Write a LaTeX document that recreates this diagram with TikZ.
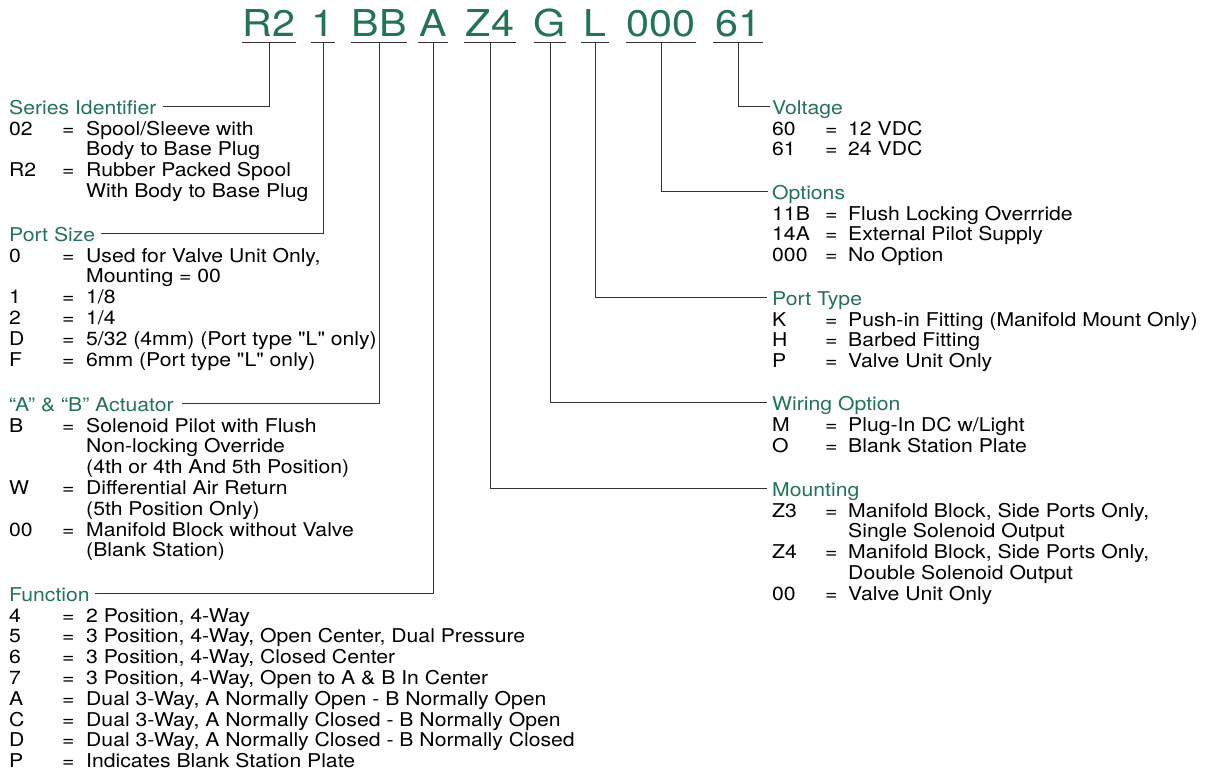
\documentclass[tikz,border=0pt]{standalone}
\usepackage{fontspec}
\setmainfont{TeX Gyre Heros}[FakeStretch=1.115, Ligatures=TeXOff]
\definecolor{hdr}{RGB}{35,115,85}
\begin{document}
\begin{tikzpicture}[x=1pt,y=-1pt,
  codebox/.style={anchor=base, inner sep=0pt, text=hdr, font=\fontsize{37}{40}\selectfont},
  hdrbox/.style={anchor=base west, inner sep=0pt, text=hdr, font=\fontsize{19}{20.8}\selectfont},
  listbox/.style={anchor=base west, inner sep=0pt, font=\fontsize{19}{20.8}\selectfont},
  conn/.style={draw=black!80, line width=0.9pt},
]
\fill[white] (0,0) rectangle (1205,774);
\useasboundingbox (0,0) rectangle (1205,774);

% code
\node[codebox, minimum width=52pt] (cR2) at (269,36) {R2};
\node[codebox, minimum width=24pt] (c1) at (323,36) {1};
\node[codebox, minimum width=56pt] (cBB) at (379,36) {BB};
\node[codebox, minimum width=30pt] (cA) at (433,36) {A};
\node[codebox, minimum width=52pt] (cZ4) at (490,36) {Z4};
\node[codebox, minimum width=30pt] (cG) at (550,36) {G};
\node[codebox, minimum width=27pt] (cL) at (595,36) {L};
\node[codebox, minimum width=68pt] (c000) at (661,36) {000};
\node[codebox, minimum width=49pt] (c61) at (738,36) {61};
\foreach \n in {cR2,c1,cBB,cA,cZ4,cG,cL,c000,c61}
  \draw[conn] ([yshift=-6.5pt]\n.base west) -- ([yshift=-6.5pt]\n.base east);

% left column
\node[hdrbox] (hSeries) at (9,114) {Series Identifier};
\node[listbox] (lSeries) at (9,135) {\begin{tabular}[t]{@{}p{53pt}@{}p{24pt}@{}l@{}}
02 & = & Spool/Sleeve with\\
 & & Body to Base Plug\\
R2 & = & Rubber Packed Spool\\
 & & With Body to Base Plug
\end{tabular}};

\node[hdrbox] (hPort) at (9,241) {Port Size};
\node[listbox] (lPort) at (9,262) {\begin{tabular}[t]{@{}p{53pt}@{}p{24pt}@{}l@{}}
0 & = & Used for Valve Unit Only,\\
 & & Mounting = 00\\
1 & = & 1/8\\
2 & = & 1/4\\
D & = & 5/32 (4mm) (Port type "L" only)\\
F & = & 6mm (Port type "L" only)
\end{tabular}};

\node[hdrbox] (hAct) at (9,411) {“A” \& “B” Actuator};
\node[listbox] (lAct) at (9,432) {\begin{tabular}[t]{@{}p{53pt}@{}p{24pt}@{}l@{}}
B & = & Solenoid Pilot with Flush\\
 & & Non-locking Override\\
 & & (4th or 4th And 5th Position)\\
W & = & Differential Air Return\\
 & & (5th Position Only)\\
00 & = & Manifold Block without Valve\\
 & & (Blank Station)
\end{tabular}};

\node[hdrbox] (hFunc) at (9,601) {Function};
\node[listbox] (lFunc) at (9,622) {\begin{tabular}[t]{@{}p{53pt}@{}p{24pt}@{}l@{}}
4 & = & 2 Position, 4-Way\\
5 & = & 3 Position, 4-Way, Open Center, Dual Pressure\\
6 & = & 3 Position, 4-Way, Closed Center\\
7 & = & 3 Position, 4-Way, Open to A \& B In Center\\
A & = & Dual 3-Way, A Normally Open - B Normally Open\\
C & = & Dual 3-Way, A Normally Closed - B Normally Open\\
D & = & Dual 3-Way, A Normally Closed - B Normally Closed\\
P & = & Indicates Blank Station Plate
\end{tabular}};

% right column
\node[hdrbox] (hVolt) at (772,114) {Voltage};
\node[listbox] (lVolt) at (772,135) {\begin{tabular}[t]{@{}p{53pt}@{}p{23pt}@{}l@{}}
60 & = & 12 VDC\\
61 & = & 24 VDC
\end{tabular}};

\node[hdrbox] (hOpt) at (772,199) {Options};
\node[listbox] (lOpt) at (772,220) {\begin{tabular}[t]{@{}p{53pt}@{}p{23pt}@{}l@{}}
11B & = & Flush Locking Overrride\\
14A & = & External Pilot Supply\\
000 & = & No Option
\end{tabular}};

\node[hdrbox] (hPT) at (772,305) {Port Type};
\node[listbox] (lPT) at (772,326) {\begin{tabular}[t]{@{}p{53pt}@{}p{23pt}@{}l@{}}
K & = & Push-in Fitting (Manifold Mount Only)\\
H & = & Barbed Fitting\\
P & = & Valve Unit Only
\end{tabular}};

\node[hdrbox] (hWir) at (772,410.5) {Wiring Option};
\node[listbox] (lWir) at (772,431.5) {\begin{tabular}[t]{@{}p{53pt}@{}p{23pt}@{}l@{}}
M & = & Plug-In DC w/Light\\
O & = & Blank Station Plate
\end{tabular}};

\node[hdrbox] (hMnt) at (772,496) {Mounting};
\node[listbox] (lMnt) at (772,517) {\begin{tabular}[t]{@{}p{53pt}@{}p{23pt}@{}l@{}}
Z3 & = & Manifold Block, Side Ports Only,\\
 & & Single Solenoid Output\\
Z4 & = & Manifold Block, Side Ports Only,\\
 & & Double Solenoid Output\\
00 & = & Valve Unit Only
\end{tabular}};

% connectors
\draw[conn] ([yshift=-6.5pt]cR2.base) |- ([xshift=6pt,yshift=8pt]hSeries.base east);
\draw[conn] ([yshift=-6.5pt]c1.base) |- ([xshift=6pt,yshift=8pt]hPort.base east);
\draw[conn] ([yshift=-6.5pt]cBB.base) |- ([xshift=8pt,yshift=8pt]hAct.base east);
\draw[conn] ([yshift=-6.5pt]cA.base) |- ([xshift=5pt,yshift=8pt]hFunc.base east);
\draw[conn] ([yshift=-6.5pt]c61.base) |- ([xshift=-2pt,yshift=8pt]hVolt.base west);
\draw[conn] ([yshift=-6.5pt]c000.base) |- ([xshift=-4pt,yshift=8pt]hOpt.base west);
\draw[conn] ([yshift=-6.5pt]cL.base) |- ([xshift=-5pt,yshift=8pt]hPT.base west);
\draw[conn] ([yshift=-6.5pt]cG.base) |- ([xshift=-5pt,yshift=8pt]hWir.base west);
\draw[conn] ([yshift=-6.5pt]cZ4.base) |- ([xshift=-5pt,yshift=8pt]hMnt.base west);
\end{tikzpicture}
\end{document}
